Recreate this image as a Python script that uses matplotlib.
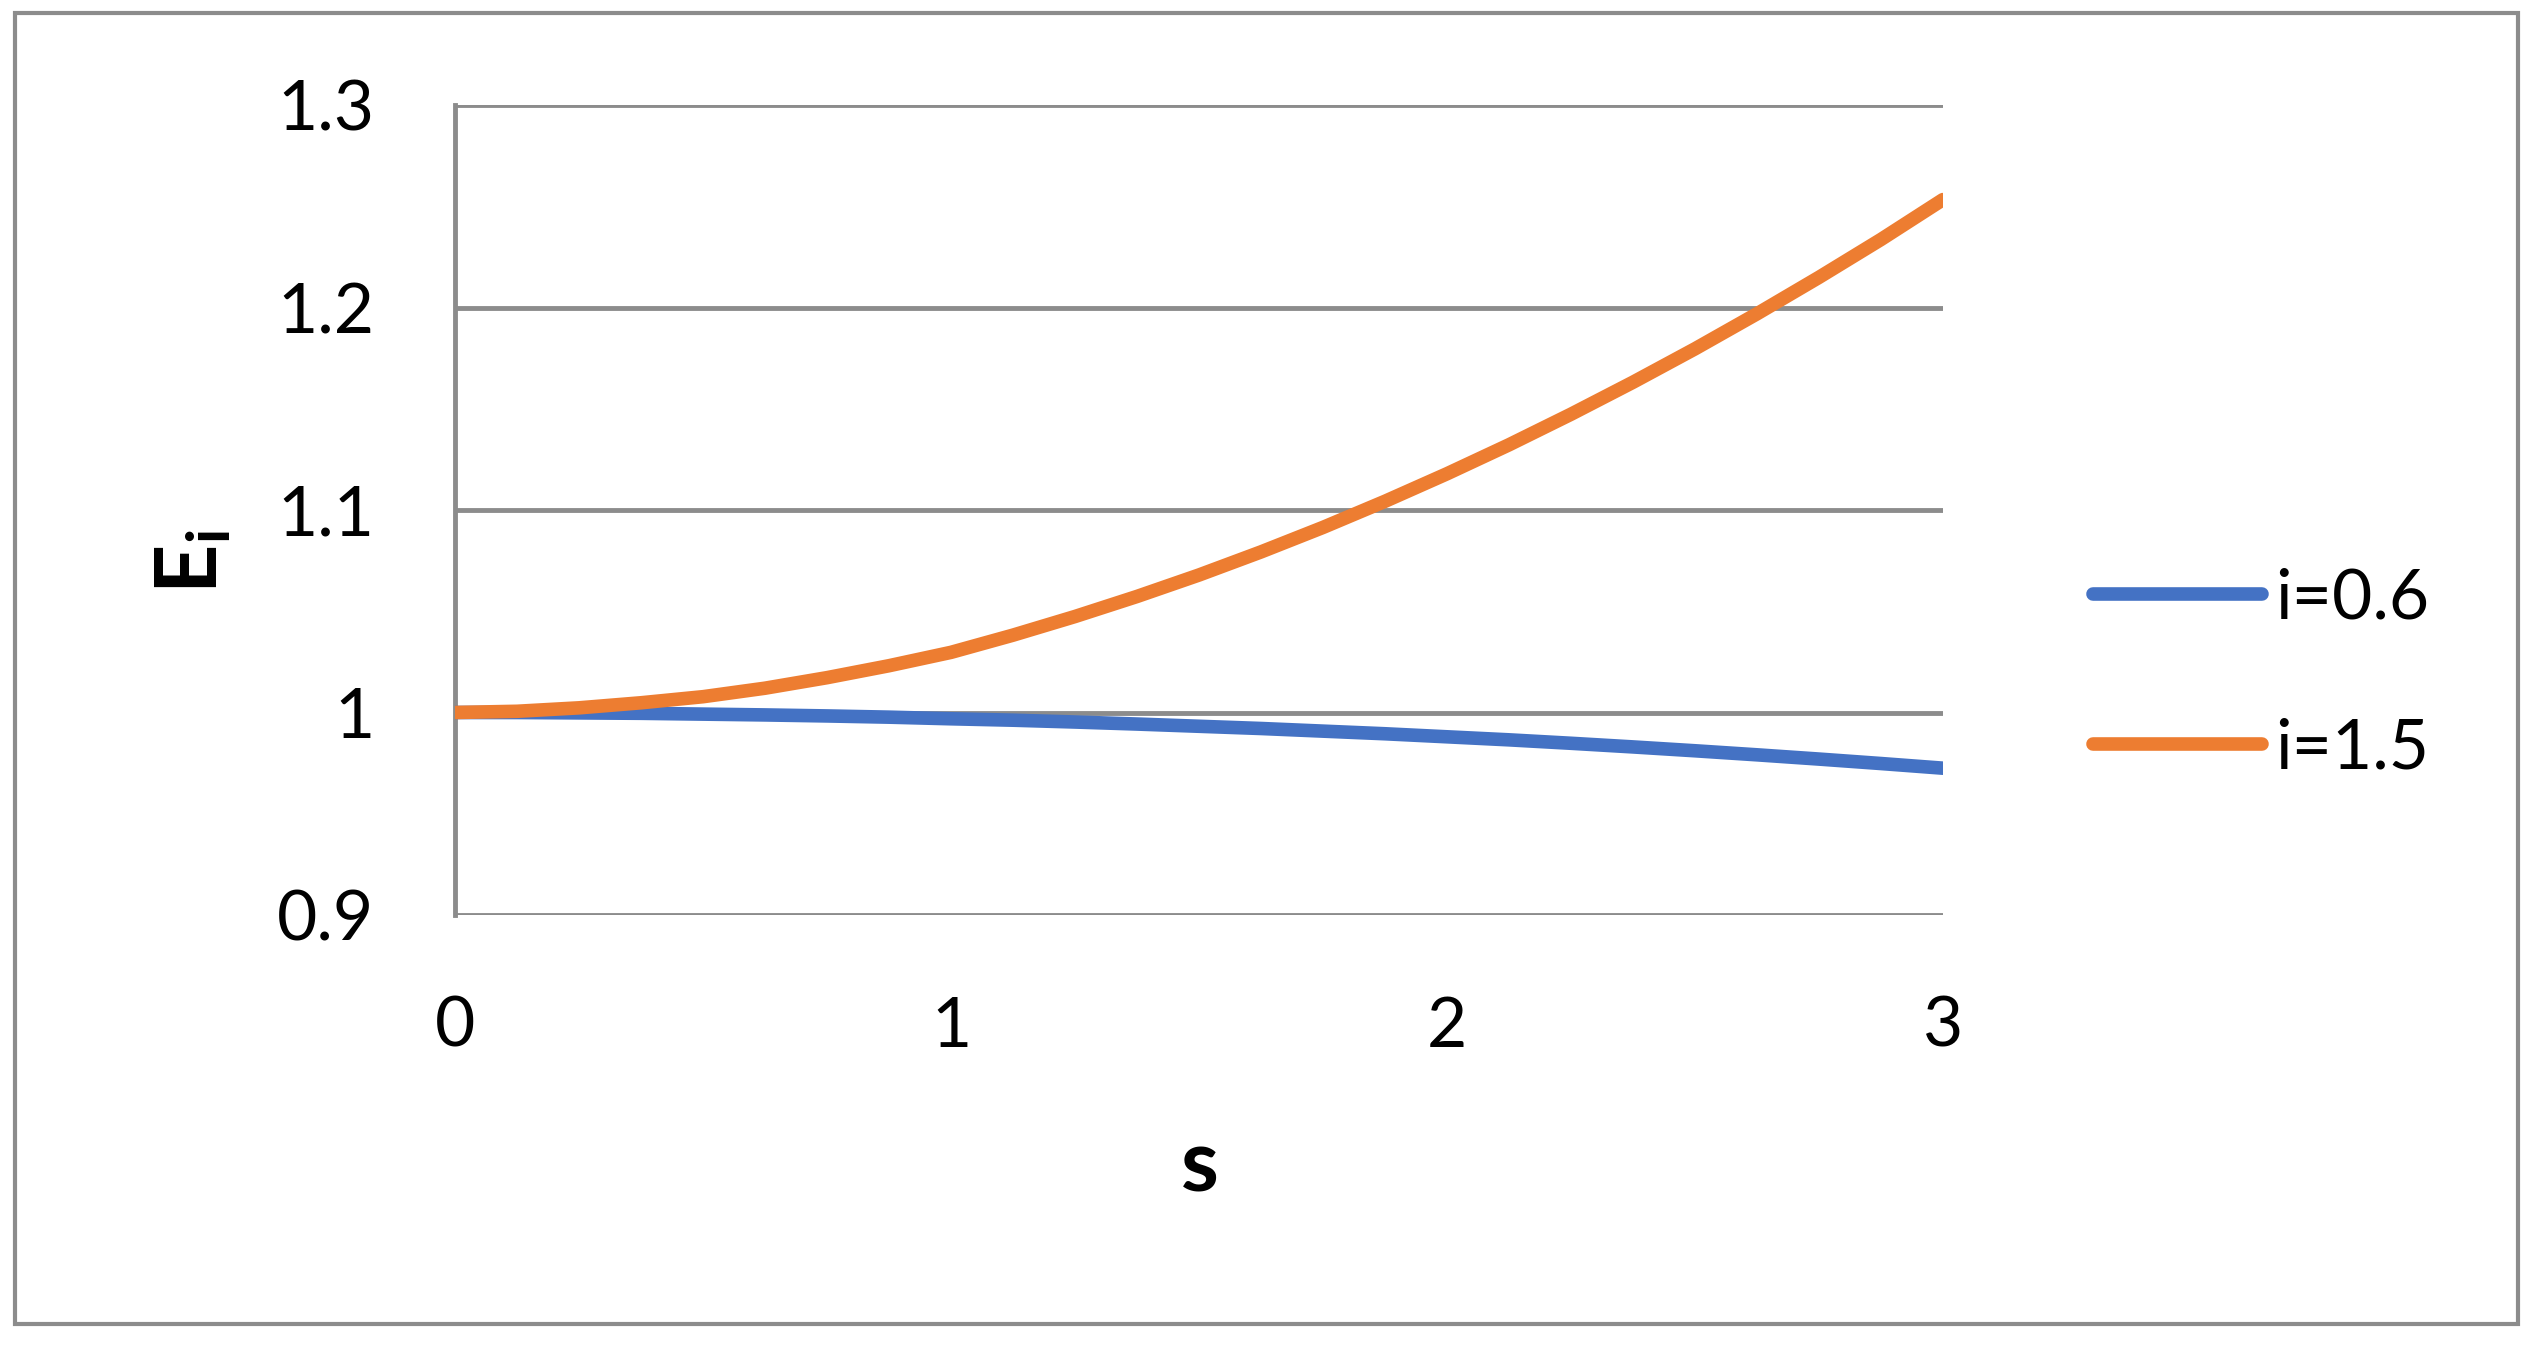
import matplotlib
matplotlib.use("Agg")
import matplotlib.pyplot as plt
from matplotlib.patches import Rectangle

# values (s step 0.125)
s_values = [0.0, 0.125, 0.25, 0.375, 0.5, 0.625, 0.75, 0.875, 1.0,
            1.125, 1.25, 1.375, 1.5, 1.625, 1.75, 1.875, 2.0,
            2.125, 2.25, 2.375, 2.5, 2.625, 2.75, 2.875, 3.0]
e_i06 = [1.0, 1.0, 0.9998, 0.9996, 0.9992, 0.9988, 0.9983, 0.9977, 0.9969,
         0.9962, 0.9953, 0.9943, 0.9932, 0.9921, 0.9908, 0.9895, 0.9880,
         0.9865, 0.9848, 0.9830, 0.9811, 0.9791, 0.9770, 0.9748, 0.9725]
e_i15 = [1.0, 1.0006, 1.0023, 1.0048, 1.0078, 1.0120, 1.0172, 1.0231, 1.0297,
         1.0382, 1.0474, 1.0573, 1.0679, 1.0793, 1.0914, 1.1043, 1.1179,
         1.1322, 1.1473, 1.1631, 1.1796, 1.1969, 1.2149, 1.2336, 1.2533]
series_labels = ["i=0.6", "i=1.5"]
y_ticks = [0.9, 1.0, 1.1, 1.2, 1.3]
y_tick_labels = ["0.9", "1", "1.1", "1.2", "1.3"]
x_ticks = [0, 1, 2, 3]

plt.rcParams["font.family"] = ["Lato", "DejaVu Sans"]
plt.rcParams["mathtext.fontset"] = "custom"
plt.rcParams["mathtext.rm"] = "Lato"
plt.rcParams["mathtext.bf"] = "Lato:bold"

W, H = 2539, 1346
fig = plt.figure(figsize=(W / 100, H / 100), dpi=100)
ax = fig.add_axes([455 / W, 1 - 915 / H, (1943 - 455) / W, (915 - 105) / H])

gray = "#8c8c8c"
ax.plot(s_values, e_i06, color="#4472C4", lw=9.8, solid_capstyle="round",
        label=series_labels[0], zorder=3)
ax.plot(s_values, e_i15, color="#ED7D31", lw=9.8, solid_capstyle="round",
        label=series_labels[1], zorder=4)

ax.set_xlim(0, 3)
ax.set_ylim(0.9, 1.3)
ax.set_xticks(x_ticks)
ax.set_yticks(y_ticks)
ax.set_yticklabels(y_tick_labels)
ax.tick_params(length=0, labelsize=50, colors="black")
ax.tick_params(axis="y", pad=58)
ax.tick_params(axis="x", pad=58)
ax.grid(axis="y", color=gray, lw=3.5)
ax.set_axisbelow(True)
for side in ["top", "right", "bottom"]:
    ax.spines[side].set_visible(False)
ax.spines["left"].set_color(gray)
ax.spines["left"].set_linewidth(3.5)

fig.text(218 / W, 1 - 562 / H, r"$\mathbf{E_i}$", fontsize=62, rotation=90,
         rotation_mode="anchor", ha="center", va="baseline")
fig.text(1200 / W, 1 - 1192 / H, "s", fontsize=62, fontweight="bold",
         ha="center", va="baseline")

leg = ax.legend(loc="center left", bbox_to_anchor=(2093 / W, 1 - 674 / H),
                bbox_transform=fig.transFigure, frameon=False, fontsize=50,
                handlelength=2.43, handletextpad=0.19, labelspacing=1.25,
                borderpad=0, borderaxespad=0)

fig.patches.append(Rectangle((15 / W, 1 - 1324 / H), (2518 - 15) / W, (1324 - 13) / H,
                             transform=fig.transFigure, fill=False,
                             edgecolor=gray, lw=3))

fig.savefig("out.png", dpi=100)
